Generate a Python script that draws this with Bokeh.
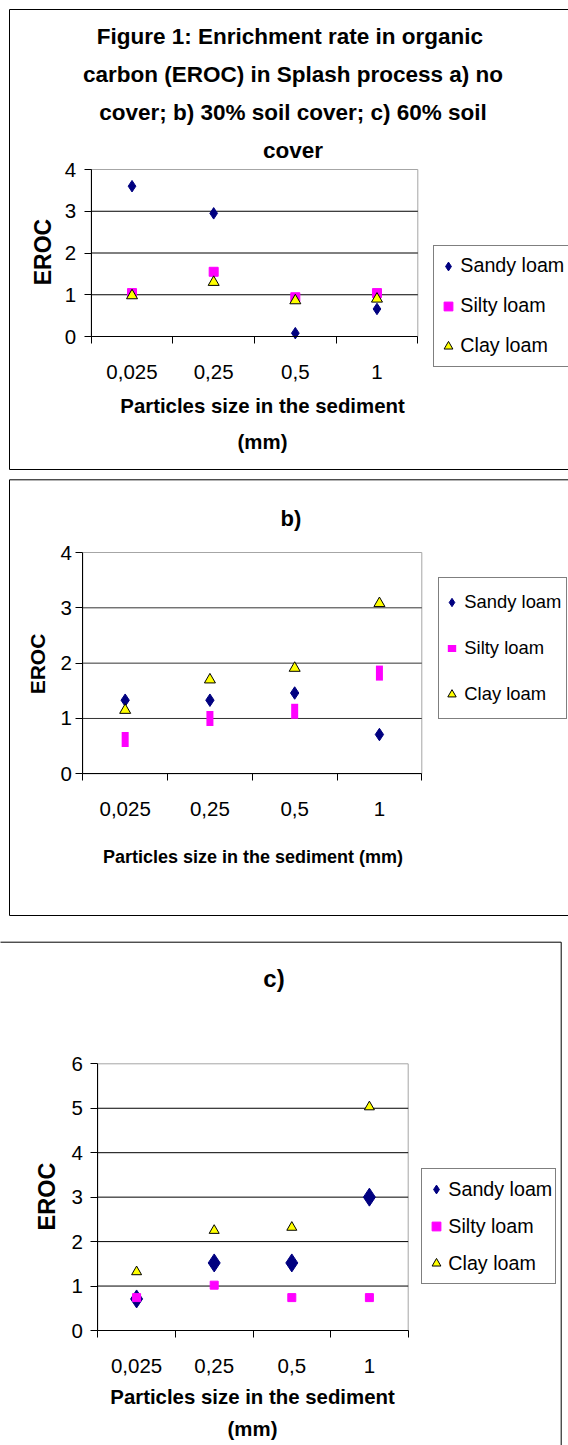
import numpy as np
from bokeh.plotting import figure
from bokeh.models import (Range1d, FixedTicker, CustomJSTickFormatter, Legend,
                          LegendItem, Label, BoxAnnotation)
from bokeh.layouts import column
from bokeh.embed import file_html
from bokeh.resources import INLINE

# ---------------- data ----------------
categories = ["0,025", "0,25", "0,5", "1"]
series_names = ["Sandy loam", "Silty loam", "Clay loam"]

# a) no cover
a_sandy = [3.60, 2.95, 0.08, 0.66]
a_silty = [1.04, 1.55, 0.94, 1.04]
a_clay = [0.98, 1.30, 0.86, 0.90]
# b) 30% soil cover
b_sandy = [1.33, 1.33, 1.46, 0.71]
b_silty = [0.62, 1.00, 1.13, 1.82]
b_clay = [1.15, 1.70, 1.91, 3.08]
# c) 60% soil cover
c_sandy = [0.71, 1.52, 1.52, 3.00]
c_silty = [0.74, 1.02, 0.74, 0.74]
c_clay = [1.32, 2.25, 2.32, 5.03]

y_ticks_a = [0, 1, 2, 3, 4]
y_ticks_b = [0, 1, 2, 3, 4]
y_ticks_c = [0, 1, 2, 3, 4, 5, 6]

title_a = ["Figure 1:  Enrichment rate in organic",
           "carbon (EROC) in Splash process a) no",
           "cover; b) 30% soil cover; c) 60% soil",
           "cover"]
title_b = ["b)"]
title_c = ["c)"]
x_label_a = ["Particles size in the sediment", "(mm)"]
x_label_b = ["Particles size in the sediment (mm)"]
x_label_c = ["Particles size in the sediment", "(mm)"]
y_label = "EROC"

# ---------------- style ----------------
SANS = "Liberation Sans, Arial, sans-serif"
NAVY = "#000080"
MAGENTA = "#FF00FF"
YELLOW = "#FFFF00"
W = 568


def build(H, area, yticks, sandy, silty, clay, sizes, silty_bar,
          titles, title_size, title_pos, title_dy,
          xlabels, xlabel_size, xlabel_pos, xlabel_dy,
          ylabel_pos, ylabel_size, x_standoff, y_standoff, tick_size,
          grid_color, leg, border):
    n = len(categories)
    ymax = yticks[-1]
    L, R, T, B = area                      # pixel box of the plotting area
    sx = (R - L) / n
    sy = (B - T) / ymax
    p = figure(width=W, height=H, title=None,
               x_range=Range1d(-L / sx, (W - L) / sx),
               y_range=Range1d(-(H - B) / sy, B / sy),
               output_backend="svg", toolbar_location=None,
               min_border_left=0, min_border_right=0,
               min_border_top=0, min_border_bottom=0)
    p.outline_line_color = None
    p.background_fill_color = "white"
    p.border_fill_color = "white"
    p.xgrid.visible = False
    p.ygrid.visible = False

    xs = [i + 0.5 for i in range(n)]

    # plotting-area frame (grey top/right edge) and horizontal grid lines
    p.add_layout(BoxAnnotation(left=0, right=n, bottom=0, top=ymax,
                               fill_color=None, fill_alpha=0,
                               line_color="#a6a6a6", line_alpha=1, line_width=1,
                               level="underlay"))
    gy = yticks[1:-1]
    p.segment(x0=[0] * len(gy), x1=[n] * len(gy), y0=gy, y1=gy,
              line_color=grid_color, line_width=1)

    # x axis: labels at category centres, tick marks at category boundaries
    xa = p.xaxis[0]
    xa.fixed_location = 0
    xa.bounds = (0, n)
    xa.ticker = FixedTicker(ticks=xs, minor_ticks=list(range(n + 1)))
    xa.formatter = CustomJSTickFormatter(args=dict(labels=categories),
                                         code="return labels[index]")
    xa.major_tick_out = 0
    xa.major_tick_in = 0
    xa.minor_tick_out = 7
    xa.minor_tick_in = 0
    xa.minor_tick_line_color = "black"
    xa.axis_line_color = "black"
    xa.major_label_text_font = SANS
    xa.major_label_text_font_size = f"{tick_size}px"
    xa.major_label_text_color = "black"
    xa.major_label_standoff = x_standoff

    # y axis
    ya = p.yaxis[0]
    ya.fixed_location = 0
    ya.bounds = (0, ymax)
    ya.ticker = FixedTicker(ticks=yticks)
    ya.major_tick_out = 7
    ya.major_tick_in = 0
    ya.minor_tick_out = 0
    ya.minor_tick_in = 0
    ya.major_tick_line_color = "black"
    ya.axis_line_color = "black"
    ya.major_label_text_font = SANS
    ya.major_label_text_font_size = f"{tick_size}px"
    ya.major_label_text_color = "black"
    ya.major_label_standoff = y_standoff

    # series
    r1 = p.scatter(xs, sandy, marker="diamond", size=sizes[0],
                   fill_color=NAVY, line_color=NAVY)
    if silty_bar:
        r2 = p.scatter(xs, silty, marker="dash", size=sizes[1], angle=np.pi / 2,
                       line_color=MAGENTA, line_width=7)
    else:
        r2 = p.scatter(xs, silty, marker="square", size=sizes[1],
                       fill_color=MAGENTA, line_color=MAGENTA)
    r3 = p.scatter(xs, clay, marker="triangle", size=sizes[2],
                   fill_color=YELLOW, line_color="black", line_width=1)

    legend = Legend(items=[LegendItem(label=nm, renderers=[r])
                           for nm, r in zip(series_names, [r1, r2, r3])],
                    location=(leg["left"], H - leg["bottom"]),
                    padding=leg["padding"], spacing=leg["spacing"],
                    glyph_width=leg["gw"], glyph_height=leg["gh"],
                    label_height=leg["gh"], label_width=leg["lw"],
                    label_standoff=leg["standoff"],
                    label_text_font=SANS,
                    label_text_font_size=f"{leg['font']}px",
                    label_text_color="black",
                    border_line_color="black", border_line_width=1,
                    background_fill_color="white", background_fill_alpha=1,
                    margin=0)
    p.add_layout(legend)

    def text(x, y, t, size, bold=True, angle=0.0):
        p.add_layout(Label(x=x, y=H - y, x_units="screen", y_units="screen",
                           text=t, angle=angle, text_font=SANS,
                           text_font_style="bold" if bold else "normal",
                           text_font_size=f"{size}px", text_color="black",
                           text_align="center", text_baseline="middle"))

    tx, ty = title_pos
    for i, t in enumerate(titles):
        text(tx, ty + i * title_dy, t, title_size)
    lx, ly = xlabel_pos
    for i, t in enumerate(xlabels):
        text(lx, ly + i * xlabel_dy, t, xlabel_size)
    text(ylabel_pos[0], ylabel_pos[1], y_label, ylabel_size, angle=np.pi / 2)

    # border of the chart area
    bl, bt, br, bb = border
    p.add_layout(BoxAnnotation(left=bl, right=br, top=H - bt, bottom=H - bb,
                               left_units="screen", right_units="screen",
                               top_units="screen", bottom_units="screen",
                               fill_color=None, fill_alpha=0,
                               line_color="black", line_alpha=1, line_width=1))
    return p


pa = build(H=470, area=(90.7, 417.3, 169, 336), yticks=y_ticks_a,
           sandy=a_sandy, silty=a_silty, clay=a_clay, sizes=(11.5, 9, 11), silty_bar=False,
           titles=title_a, title_size=22.5, title_pos=(292.5, 36), title_dy=38.1,
           xlabels=x_label_a, xlabel_size=20.4, xlabel_pos=(262, 405.7), xlabel_dy=36,
           ylabel_pos=(42.7, 251.5), ylabel_size=23,
           x_standoff=21, y_standoff=8, tick_size=20.5, grid_color="black",
           leg=dict(left=433.3, bottom=366.7, padding=3, spacing=6, gw=22, gh=34,
                    lw=140, standoff=1, font=19.7),
           border=(9, 9, 620, 469))

pb = build(H=446, area=(82.3, 421.3, 82, 303.3), yticks=y_ticks_b,
           sandy=b_sandy, silty=b_silty, clay=b_clay, sizes=(12.5, 15, 11), silty_bar=True,
           titles=title_b, title_size=22, title_pos=(290.5, 47.5), title_dy=0,
           xlabels=x_label_b, xlabel_size=18, xlabel_pos=(252.5, 386.7), xlabel_dy=0,
           ylabel_pos=(37.3, 193.5), ylabel_size=21,
           x_standoff=21, y_standoff=4, tick_size=20.5, grid_color="#333333",
           leg=dict(left=438.3, bottom=248.7, padding=2, spacing=2, gw=21, gh=44,
                    lw=100, standoff=2, font=18.4),
           border=(9, 9.3, 620, 445))

pc = build(H=529, area=(97.3, 407.7, 147.3, 414), yticks=y_ticks_c,
           sandy=c_sandy, silty=c_silty, clay=c_clay, sizes=(18, 8, 10), silty_bar=False,
           titles=title_c, title_size=24, title_pos=(273.5, 62.3), title_dy=0,
           xlabels=x_label_c, xlabel_size=20.4, xlabel_pos=(252, 480), xlabel_dy=32.3,
           ylabel_pos=(46, 280), ylabel_size=23.5,
           x_standoff=21, y_standoff=8, tick_size=20.5, grid_color="black",
           leg=dict(left=421.3, bottom=368.3, padding=3, spacing=3, gw=22, gh=34,
                    lw=104, standoff=1, font=19.7),
           border=(-60, 25.7, 560.7, 620))

layout = column(pa, pb, pc)
open("out.html", "w").write(file_html(layout, INLINE))
